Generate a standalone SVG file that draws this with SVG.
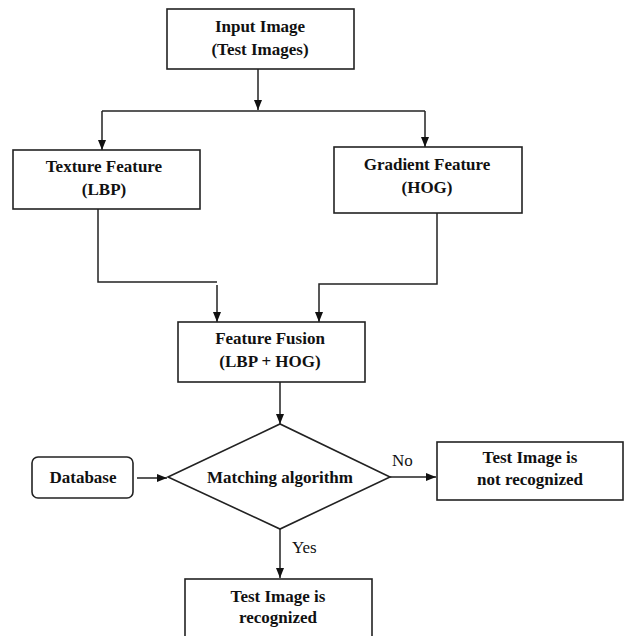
<svg xmlns="http://www.w3.org/2000/svg" width="625" height="636" viewBox="0 0 625 636">
<defs>
<style>
.box{fill:#fff;stroke:#222;stroke-width:1.6}
.t{font-size:17px;font-weight:bold;fill:#111;text-anchor:middle}
.l{font-size:17px;fill:#111}
.c{fill:none;stroke:#222;stroke-width:1.5}
</style>
<marker id="ah" markerUnits="userSpaceOnUse" markerWidth="10" markerHeight="10" viewBox="0 0 10 10" refX="10" refY="5" orient="auto">
<path d="M0,1 L10,5 L0,9 Z" fill="#111"/>
</marker>
</defs>
<rect width="625" height="636" fill="#fff"/>
<g font-family="'Liberation Serif', 'Times New Roman', serif">
<g id="connectors">
<line class="c" x1="258" y1="69" x2="258" y2="110" marker-end="url(#ah)"/>
<line class="c" x1="102" y1="111" x2="425" y2="111"/>
<line class="c" x1="102" y1="111" x2="102" y2="150" marker-end="url(#ah)"/>
<line class="c" x1="425" y1="111" x2="425" y2="147" marker-end="url(#ah)"/>
<polyline class="c" points="98,209 98,282 217,282"/>
<line class="c" x1="217" y1="285" x2="217" y2="322" marker-end="url(#ah)"/>
<polyline class="c" points="437,213 437,284 319,284 319,322" marker-end="url(#ah)"/>
<line class="c" x1="280" y1="382" x2="280" y2="424" marker-end="url(#ah)"/>
<line class="c" x1="137" y1="478" x2="167" y2="478" marker-end="url(#ah)"/>
<line class="c" x1="390" y1="477" x2="436" y2="477" marker-end="url(#ah)"/>
<line class="c" x1="280" y1="529" x2="280" y2="578" marker-end="url(#ah)"/>
<text class="l" x="392" y="466">No</text>
<text class="l" x="292" y="553">Yes</text>
</g>
<g id="input">
<rect class="box" x="167" y="9" width="187" height="60"/>
<text class="t" x="260" y="32">Input Image</text>
<text class="t" x="260" y="55">(Test Images)</text>
</g>
<g id="texture">
<rect class="box" x="13" y="150" width="187" height="59"/>
<text class="t" x="104" y="172">Texture Feature</text>
<text class="t" x="104" y="195">(LBP)</text>
</g>
<g id="gradient">
<rect class="box" x="334" y="147" width="188" height="66"/>
<text class="t" x="427" y="170">Gradient Feature</text>
<text class="t" x="427" y="193">(HOG)</text>
</g>
<g id="fusion">
<rect class="box" x="178" y="322" width="187" height="60"/>
<text class="t" x="270" y="344">Feature Fusion</text>
<text class="t" x="270" y="367">(LBP + HOG)</text>
</g>
<g id="database">
<rect class="box" x="32" y="457" width="101" height="41" rx="6"/>
<text class="t" x="83" y="483">Database</text>
</g>
<g id="matching">
<polygon class="box" points="168,477 280,424 390,477 280,529"/>
<text class="t" x="280" y="483">Matching algorithm</text>
</g>
<g id="not-recognized">
<rect class="box" x="437" y="442" width="186" height="58"/>
<text class="t" x="530" y="463">Test Image is</text>
<text class="t" x="530" y="485">not recognized</text>
</g>
<g id="recognized">
<rect class="box" x="185" y="579" width="187" height="70"/>
<text class="t" x="278" y="602">Test Image is</text>
<text class="t" x="278" y="623">recognized</text>
</g>
</g>
</svg>
